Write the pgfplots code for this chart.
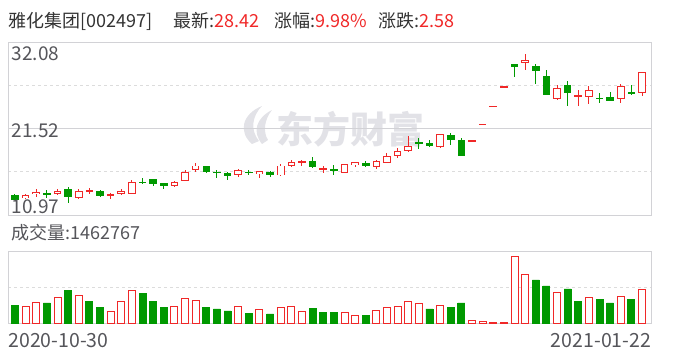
\documentclass[border=0pt]{standalone}
\usepackage{pgfplots}
\pgfplotsset{compat=1.18}
\usepackage{pgfplotstable}
\usepackage{fontspec}
\newfontfamily\cjk{Noto Sans CJK SC}
\definecolor{cred}{RGB}{240,40,40}
\definecolor{cgreen}{RGB}{0,153,0}
\definecolor{cframe}{RGB}{210,210,214}
\definecolor{cgrid}{RGB}{220,220,220}
\definecolor{ctext}{RGB}{51,51,51}
\definecolor{clabel}{RGB}{85,85,90}
\definecolor{cwater}{RGB}{226,226,231}

% candles closing at or above their open (red, hollow)
\pgfplotstableread{
i O H L C
1 13.05 13.50 12.89 13.41
2 13.54 14.15 13.13 13.72
4 13.57 14.11 13.45 13.90
6 13.08 14.15 12.96 13.87
7 13.87 14.23 13.50 13.94
9 13.41 13.62 12.96 13.47
10 13.62 14.11 13.38 13.87
11 13.62 15.25 13.50 14.97
15 14.55 15.09 14.43 15.00
16 15.21 16.47 15.21 16.19
17 16.51 17.29 16.26 16.96
21 15.95 16.56 15.65 16.43
23 16.02 16.38 15.53 16.31
25 15.86 17.17 15.77 16.96
26 17.00 17.69 16.84 17.33
27 17.39 17.73 16.96 17.45
29 16.59 16.92 16.10 16.65
31 16.14 17.17 16.14 17.17
32 17.12 17.48 16.84 17.41
34 16.87 17.69 16.63 17.45
35 17.41 18.51 17.36 18.15
36 18.27 19.16 17.98 18.76
37 18.83 20.63 18.71 19.40
40 19.32 20.84 19.16 20.84
43 20.04 20.04 20.04 20.04
44 22.04 22.04 22.04 22.04
45 24.25 24.25 24.25 24.25
46 26.67 26.67 26.67 26.67
48 29.59 30.65 28.73 29.88
51 25.19 26.86 25.03 26.46
53 25.44 26.25 24.33 25.52
54 25.48 26.74 24.58 26.21
57 25.19 26.98 24.70 26.70
59 25.92 28.42 25.55 28.42
}\up
% candles closing below their open (green, filled)
\pgfplotstableread{
i O H L C
0 13.33 13.54 12.80 12.89
3 13.60 13.99 13.08 13.54
5 14.03 14.39 12.47 13.17
8 13.82 14.03 13.21 13.38
12 15.00 15.46 14.76 14.94
13 15.25 15.33 14.55 14.81
14 14.85 14.92 14.18 14.55
18 16.84 16.96 16.14 16.26
19 16.22 16.47 15.53 16.16
20 16.10 16.19 15.29 15.77
22 16.22 16.47 15.86 16.16
24 16.22 16.35 15.65 15.98
28 17.45 18.10 16.71 16.84
30 16.53 17.04 15.86 16.47
33 17.29 17.57 16.96 17.00
38 19.89 20.42 19.00 19.77
39 19.77 20.10 19.32 19.44
41 20.63 20.96 19.56 20.18
42 20.02 20.38 18.22 18.22
47 29.34 29.34 27.88 29.10
49 29.18 29.43 27.02 28.61
50 27.96 28.70 25.64 25.64
52 26.86 27.35 24.33 25.92
55 25.27 25.88 24.72 25.21
56 25.39 26.00 24.94 24.94
58 26.00 26.82 25.68 25.84
}\down
% volume, in units of 10000 shares
\pgfplotstableread{
i V
1 73.8
2 90.8
4 110.9
6 119.4
9 52.5
10 95.1
11 140.7
15 72.5
16 106.6
17 98.1
21 72.5
23 59.7
25 68.2
26 72.5
27 52.5
31 46.9
32 34.1
34 55.4
35 68.2
36 72.5
37 93.8
38 85.3
40 76.8
43 14.1
44 9.8
45 5.5
46 5.5
47 287.0
48 210.2
51 133.5
54 112.2
57 116.4
59 146.28
}\volup
\pgfplotstableread{
i V
0 78.0
3 86.6
5 142.0
7 95.1
8 69.5
12 129.2
13 95.1
14 69.5
18 69.5
19 61.0
20 52.5
22 43.9
24 39.7
28 65.2
29 48.2
30 48.2
33 35.4
39 61.0
41 69.5
42 86.6
49 184.7
50 159.1
52 146.3
53 95.1
55 103.6
56 86.6
58 103.6
}\voldown

\pgfplotsset{
  panel/.style={
    scale only axis, anchor=south west,
    width=643pt, xmin=-0.63, xmax=59.87,
    axis line style={draw=cframe, line width=0.9pt},
    xtick=\empty, yticklabels={}, major tick length=0pt,
    ymajorgrids, grid style={draw=cgrid, dash pattern=on 3pt off 3pt, line width=0.8pt},
  },
  wick/.style={draw=none, mark=none, forget plot,
    error bars/.cd, y dir=both, y explicit, error mark=none,
    error bar style={draw=#1, solid, line width=1pt, line cap=butt}},
  body/.style 2 args={draw=none, mark=none, forget plot,
    error bars/.cd, y dir=both, y explicit, error mark=none,
    error bar style={draw=#1, solid, line width=#2, line cap=butt}},
}

\begin{document}
\begin{tikzpicture}[x=1pt,y=1pt]
\useasboundingbox (0,0) rectangle (688,360);
% watermark
\node[text=cwater, font=\cjk\bfseries\fontsize{37}{40}\selectfont, inner sep=0pt] at (350,231) {东方财富};
\fill[cwater] (252,216) .. controls (238,228) and (242,246) .. (262,254)
  .. controls (252,244) and (250,230) .. (259,219) -- cycle;
\fill[cwater] (262,216) .. controls (252,228) and (256,242) .. (272,250)
  .. controls (264,240) and (263,228) .. (268,220) -- cycle;

% price panel
\begin{axis}[panel, at={(8.3pt,145pt)}, height=172.7pt,
  ymin=10.97, ymax=32.08, ytick={16.2475,26.8025},
  extra y ticks={21.525}, extra y tick labels={},
  extra y tick style={grid style={solid, draw=cframe, line width=0.9pt}}]
  % wicks
  \addplot[wick=cred] table[x=i, y=C,
    y error plus expr={\thisrow{H}-\thisrow{C}},
    y error minus expr={\thisrow{C}-\thisrow{L}}] {\up};
  \addplot[wick=cgreen] table[x=i, y=C,
    y error plus expr={\thisrow{H}-\thisrow{C}},
    y error minus expr={\thisrow{C}-\thisrow{L}}] {\down};
  % red hollow bodies: outline then white inside
  \addplot[body={cred}{7.6pt}] table[x=i,
    y expr={(\thisrow{O}+\thisrow{C})/2},
    y error expr={abs(\thisrow{C}-\thisrow{O})/2+0.06}] {\up};
  \addplot[body={white}{5.6pt}] table[x=i,
    y expr={(\thisrow{O}+\thisrow{C})/2},
    y error expr={max(abs(\thisrow{C}-\thisrow{O})/2-0.06,0)}] {\up};
  % green filled bodies
  \addplot[body={cgreen}{7.6pt}] table[x=i,
    y expr={(\thisrow{O}+\thisrow{C})/2},
    y error expr={abs(\thisrow{C}-\thisrow{O})/2+0.06}] {\down};
\end{axis}

% volume panel
\begin{axis}[panel, at={(8.3pt,36.7pt)}, height=71.6pt,
  ymin=0, ymax=305.3, ytick={152.65}]
  \addplot[ybar, bar width=7.0pt, bar shift=0pt, draw=cred, fill=white, line width=0.9pt]
    table[x=i, y=V] {\volup};
  \addplot[ybar, bar width=7.0pt, bar shift=0pt, draw=cgreen, fill=cgreen, line width=0.9pt]
    table[x=i, y=V] {\voldown};
\end{axis}

% texts
\begin{scope}[every node/.style={inner sep=0pt, anchor=west}]
\node[text=ctext, font=\cjk\fontsize{18}{20}\selectfont] at (8.3,339) {雅化集团[002497]};
\node[font=\cjk\fontsize{18}{20}\selectfont] at (173,339) {\color{ctext}最新:\color{cred}28.42};
\node[font=\cjk\fontsize{18}{20}\selectfont] at (274,339) {\color{ctext}涨幅:\color{cred}9.98\%};
\node[font=\cjk\fontsize{18}{20}\selectfont] at (378,339) {\color{ctext}涨跌:\color{cred}2.58};
\node[text=clabel, font=\cjk\fontsize{19}{20}\selectfont] at (11.7,306.3) {32.08};
\node[text=clabel, font=\cjk\fontsize{19}{20}\selectfont] at (11.7,229.7) {21.52};
\node[text=clabel, font=\cjk\fontsize{19}{20}\selectfont] at (11.7,153) {10.97};
\node[text=clabel, font=\cjk\fontsize{18}{20}\selectfont] at (11.7,127.3) {成交量:1462767};
\node[text=clabel, font=\cjk\fontsize{19.5}{21}\selectfont] at (8.3,19.3) {2020-10-30};
\node[text=clabel, font=\cjk\fontsize{19.5}{21}\selectfont, anchor=east] at (651.3,19.3) {2021-01-22};
\end{scope}
\end{tikzpicture}
\end{document}
